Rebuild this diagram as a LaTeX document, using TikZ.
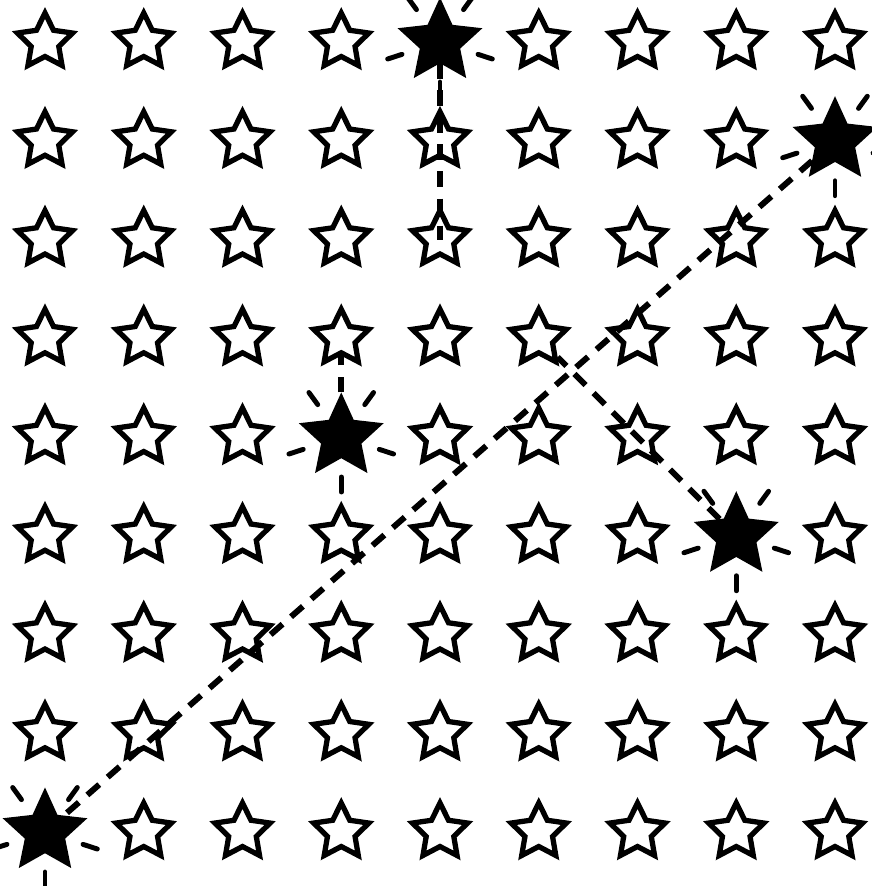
\documentclass[tikz,border=0pt]{standalone}
\usetikzlibrary{shapes.geometric, calc}

\begin{document}
\begin{tikzpicture}[
  plainstar/.style={star, star points=5, star point ratio=2.0, minimum size=0.58cm, inner sep=0pt, draw=black, line width=1.5pt},
  litstar/.style={star, star points=5, star point ratio=2.1, minimum size=0.84cm, inner sep=0pt, draw=black, fill=black, line width=0.6pt},
  ray/.style={line width=1.4pt, line cap=round},
  link/.style={line width=1.7pt, dash pattern=on 4.5pt off 3.2pt}
]
  \useasboundingbox (0,0) rectangle (8.71,-8.86);

  % 9 x 9 field of stars, five of them lit
  \foreach \i in {0,...,8}{
    \foreach \j in {0,...,8}{
      \pgfmathtruncatemacro{\lit}{(\i==4 && \j==0) || (\i==8 && \j==1) || (\i==3 && \j==4) || (\i==7 && \j==5) || (\i==0 && \j==8)}
      \ifnum\lit=1
        \node[litstar] (s-\i-\j) at ({0.45+0.9875*\i},{-0.42-0.9875*\j}) {};
      \else
        \node[plainstar] (s-\i-\j) at ({0.45+0.9875*\i},{-0.42-0.9875*\j}) {};
      \fi
    }
  }

  % glints round the lit stars
  \foreach \n in {s-4-0, s-8-1, s-3-4, s-7-5, s-0-8}
    \foreach \a in {54,126,198,270,342}
      \draw[ray] ($(\n.center)+(\a:0.4)$) -- ($(\n.center)+(\a:0.55)$);

  \draw[link] (s-4-0) -- (s-4-2.center);
  \draw[link] (s-3-4) -- (s-3-3);
  \draw[link] (s-7-5) -- (s-5-3);
  \draw[link] (s-8-1) -- (s-0-8);
\end{tikzpicture}
\end{document}
